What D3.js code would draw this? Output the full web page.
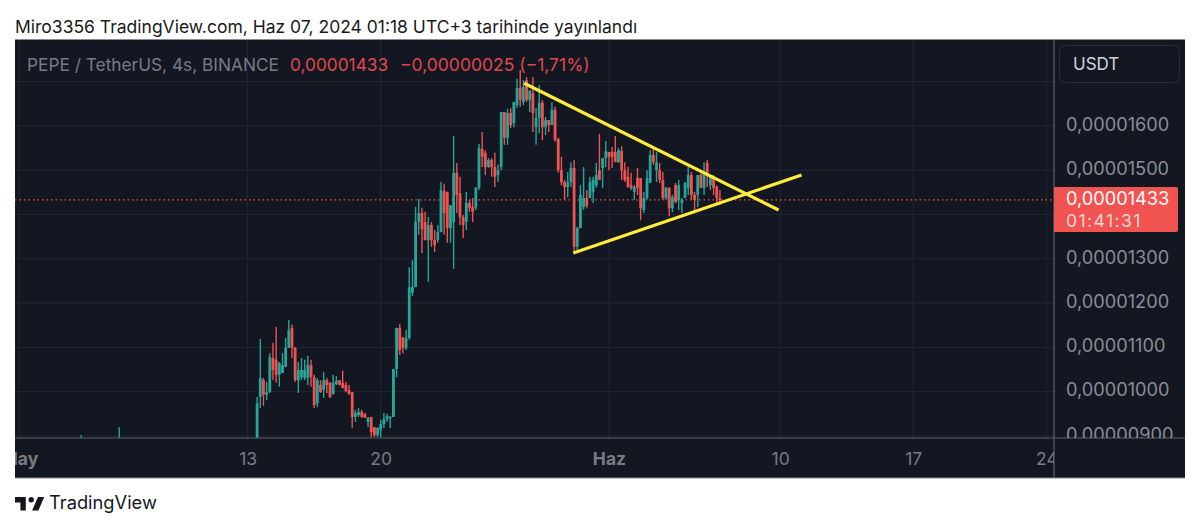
<!DOCTYPE html>
<html><head><meta charset="utf-8">
<script src="https://cdn.jsdelivr.net/npm/d3@7"></script>
<style>html,body{margin:0;background:#fff}svg{display:block}text{font-family:Inter,"Noto Sans",sans-serif}</style>
</head><body><svg id="c" width="1200" height="530"></svg>
<script>
// Values are prices x 1e-8 USDT
const firstCandle = "2024-05-13T12:00:00Z";
const opens = [880,988,1026,993,999,1076,1072,1038,1042,1056,1099,1144,1099,1026,1033,1031,1031,1060,1033,974,1015,1004,1026,1020,995,1017,1026,1020,1015,1004,999,943,947,954,950,932,943,920,902,914,927,938,941,943,1051,1144,1123,1099,1121,1223,1236,1383,1403,1383,1342,1376,1342,1342,1360,1453,1451,1369,1383,1494,1448,1394,1383,1426,1417,1415,1460,1548,1539,1507,1523,1507,1489,1507,1631,1573,1629,1606,1647,1685,1654,1703,1658,1674,1597,1618,1652,1597,1613,1602,1636,1570,1500,1473,1462,1473,1505,1327,1369,1417,1437,1437,1451,1466,1500,1505,1527,1541,1541,1541,1518,1543,1500,1485,1466,1451,1482,1482,1410,1437,1471,1534,1500,1500,1478,1437,1460,1414,1466,1433,1426,1437,1460,1489,1444,1444,1489,1460,1516,1466,1485,1462,1437];
const highs = [988,1119,1031,1022,1087,1110,1146,1067,1087,1121,1162,1151,1101,1067,1076,1072,1081,1072,1038,1031,1026,1044,1031,1022,1038,1035,1026,1047,1022,1015,999,959,963,959,952,943,943,920,920,936,952,950,945,1051,1144,1153,1123,1139,1281,1297,1417,1435,1415,1406,1394,1383,1365,1376,1473,1469,1451,1421,1577,1516,1485,1399,1451,1433,1437,1462,1559,1586,1545,1527,1527,1539,1512,1631,1631,1638,1640,1654,1706,1726,1703,1710,1681,1710,1640,1692,1658,1620,1613,1654,1643,1573,1530,1478,1496,1518,1523,1372,1466,1507,1455,1485,1485,1516,1582,1527,1566,1541,1552,1577,1550,1554,1518,1507,1494,1466,1505,1482,1451,1500,1545,1550,1541,1516,1496,1462,1462,1444,1471,1478,1437,1473,1507,1496,1451,1489,1494,1518,1523,1489,1489,1466,1455];
const lows = [880,963,968,981,997,1026,1020,1011,1042,1056,1099,1076,1022,997,1026,1026,1015,1011,963,965,997,986,997,986,993,1015,1015,1008,999,993,918,932,943,941,941,920,898,898,898,898,918,932,918,943,1033,1083,1087,1094,1117,1216,1236,1354,1313,1342,1248,1327,1315,1336,1360,1354,1336,1336,1277,1403,1376,1347,1365,1406,1383,1410,1455,1507,1489,1505,1485,1462,1473,1500,1557,1557,1595,1597,1640,1643,1647,1654,1631,1586,1557,1584,1568,1579,1586,1602,1564,1494,1466,1433,1439,1462,1315,1315,1369,1410,1414,1437,1426,1460,1478,1460,1507,1500,1505,1518,1516,1478,1473,1460,1455,1433,1444,1387,1403,1433,1471,1512,1473,1471,1433,1433,1396,1405,1426,1410,1403,1437,1444,1433,1408,1417,1460,1444,1462,1455,1444,1421,1421];
const closes = [974,1031,993,999,1078,1049,1038,1065,1060,1099,1139,1099,1026,1049,1049,1049,1060,1033,970,1026,999,1026,1015,988,1020,1024,1015,1008,1002,995,943,952,954,943,941,941,909,902,918,927,938,945,943,1051,1144,1094,1099,1121,1236,1236,1383,1403,1367,1342,1376,1342,1331,1360,1455,1403,1369,1421,1494,1444,1394,1376,1426,1415,1406,1460,1550,1530,1507,1523,1507,1485,1500,1631,1573,1629,1602,1654,1685,1658,1688,1658,1679,1629,1618,1652,1597,1613,1602,1636,1568,1500,1473,1462,1473,1505,1327,1369,1444,1437,1419,1473,1478,1489,1478,1527,1543,1530,1530,1518,1545,1500,1478,1462,1460,1462,1460,1414,1437,1482,1534,1518,1518,1478,1437,1460,1414,1439,1428,1466,1433,1471,1489,1444,1433,1489,1460,1496,1494,1485,1460,1437,1433];

// Isolated older candles at the bottom edge of the pane
const earlyDates = ["2024-05-04T06:00:00Z","2024-05-06T06:00:00Z"];
const earlyHighs = [902,920];
const earlyLows = [880,880];

// Drawn trendlines: [time, price]
const fallingLine = [["2024-05-27T13:00:00Z",1696],["2024-06-09T22:00:00Z",1410]];
const risingLine = [["2024-05-30T03:00:00Z",1313],["2024-06-11T03:00:00Z",1489]];

const priceTicks = [900,1000,1100,1200,1300,1400,1500,1600];
const priceGrid = [900,1000,1100,1200,1300,1400,1500,1600,1700];
const dateTicks = ["2024-05-01","2024-05-13","2024-05-20","2024-06-01","2024-06-10","2024-06-17","2024-06-24"];
const dateLabels = ["May","13","20","Haz","10","17","24"];
const boldLabels = ["May","Haz"];
const lastPrice = 1433;

const svg = d3.select("#c");
const P = {l:15,t:40,r:1054,b:438,R:1185,B:478};
const parse = s => new Date(s.length===10 ? s+"T00:00:00Z" : s);
const x = d3.scaleUtc().domain([parse("2024-05-13"),parse("2024-06-24")]).range([247.6,1046.4]);
const y = d3.scaleLinear().domain([900,1700]).range([436,81.5]);
const fmt = v => (v/1e8).toFixed(8).replace(".",",");

svg.append("text").attr("x",15).attr("y",33).attr("font-size",17.5).attr("fill","#1a1a1a")
  .text("Miro3356 TradingView.com, Haz 07, 2024 01:18 UTC+3 tarihinde yayınlandı");

svg.append("rect").attr("x",P.l).attr("y",39.5).attr("width",P.R-P.l).attr("height",P.B-39.5).attr("fill","#131722");
svg.append("path").attr("d",`M${P.l} 39.5H${P.R}`).attr("stroke","#8a8c92").attr("stroke-width",1);
svg.append("path").attr("d",`M${P.l} ${P.B}H${P.R}`).attr("stroke","#8a8c92").attr("stroke-width",1);

const defs = svg.append("defs");
defs.append("clipPath").attr("id","plot").append("rect").attr("x",P.l).attr("y",P.t).attr("width",P.r-P.l).attr("height",P.b-P.t);
defs.append("clipPath").attr("id","xa").append("rect").attr("x",P.l).attr("y",P.b).attr("width",P.r-P.l).attr("height",P.B-P.b);
defs.append("clipPath").attr("id","ya").append("rect").attr("x",P.r).attr("y",P.t).attr("width",P.R-P.r).attr("height",P.b-P.t);

const plot = svg.append("g").attr("clip-path","url(#plot)");
// grid
plot.append("g").selectAll("line").data(priceGrid).join("line")
  .attr("x1",P.l).attr("x2",P.r).attr("y1",d=>y(d)).attr("y2",d=>y(d)).attr("stroke","#232733");
plot.append("g").selectAll("line").data(dateTicks).join("line")
  .attr("y1",P.t).attr("y2",P.b).attr("x1",d=>x(parse(d))).attr("x2",d=>x(parse(d))).attr("stroke","#232733");

// price line
plot.append("line").attr("x1",P.l).attr("x2",P.r).attr("y1",y(lastPrice)).attr("y2",y(lastPrice))
  .attr("stroke","#ef5350").attr("stroke-width",1.2).attr("stroke-dasharray","1.5 3");

// candles
const start = parse(firstCandle);
const candles = opens.map((o,i)=>({t:d3.utcHour.offset(start,4*i),o,h:highs[i],l:lows[i],c:closes[i]}));
const col = d => d.c>=d.o ? "#26a69a" : "#ef5350";
plot.append("g").selectAll("line").data(earlyDates).join("line")
  .attr("x1",d=>x(parse(d))).attr("x2",d=>x(parse(d)))
  .attr("y1",(d,i)=>y(earlyHighs[i])).attr("y2",(d,i)=>y(earlyLows[i]))
  .attr("stroke","#26a69a").attr("stroke-width",1.4);
const cg = plot.append("g").selectAll("g").data(candles).join("g");
cg.append("line").attr("x1",d=>x(d.t)).attr("x2",d=>x(d.t)).attr("y1",d=>y(d.h)).attr("y2",d=>y(d.l))
  .attr("stroke",col).attr("stroke-width",1.4);
cg.append("rect").attr("x",d=>x(d.t)-1.4).attr("width",2.8)
  .attr("y",d=>y(Math.max(d.o,d.c))).attr("height",d=>Math.max(1,Math.abs(y(d.o)-y(d.c))))
  .attr("fill",col);

// trendlines
const tl = d3.line().x(d=>x(parse(d[0]))).y(d=>y(d[1]));
plot.append("g").selectAll("path").data([fallingLine,risingLine]).join("path")
  .attr("d",tl).attr("fill","none").attr("stroke","#ffeb3b").attr("stroke-width",3.2);

// axis lines
svg.append("path").attr("d",`M${P.l} ${P.b}H${P.R}`).attr("stroke","#5d606b").attr("stroke-width",1.2);
svg.append("path").attr("d",`M${P.r} ${P.t}V${P.B}`).attr("stroke","#5d606b").attr("stroke-width",1.2);

// axes
const xAxis = d3.axisBottom(x).tickValues(dateTicks.map(parse)).tickSize(0).tickPadding(0)
  .tickFormat((d,i)=>dateLabels[i]);
const xg = svg.append("g").attr("clip-path","url(#xa)").append("g").attr("transform",`translate(0,${P.b})`).call(xAxis);
xg.select(".domain").remove();
xg.selectAll("text").attr("y",27).attr("dy",0).attr("font-size",17.5).attr("fill","#787b86")
  .attr("font-weight",(d,i)=>boldLabels.includes(dateLabels[i])?700:400);

const yAxis = d3.axisRight(y).tickValues(priceTicks).tickSize(0).tickPadding(0).tickFormat(fmt);
const yg = svg.append("g").attr("clip-path","url(#ya)").append("g").attr("transform",`translate(${P.r},0)`).call(yAxis);
yg.select(".domain").remove();
yg.selectAll("text").attr("x",12).attr("dy",0).attr("dominant-baseline","middle").attr("transform","translate(0,-0.7)")
  .attr("font-size",18.2).attr("fill","#8a8d96");

// USDT box
svg.append("rect").attr("x",1059.5).attr("y",45.5).attr("width",120).attr("height",37).attr("rx",6)
  .attr("fill","#131722").attr("stroke","#2a2e39");
svg.append("text").attr("x",1073).attr("y",70).attr("font-size",17).attr("fill","#d1d4dc").text("USDT");

// last price tag
svg.append("path").attr("d","M1054 187H1176a2 2 0 0 1 2 2V230a2 2 0 0 1 -2 2H1054Z").attr("fill","#f05350");
svg.append("text").attr("x",1066).attr("y",204.5).attr("font-size",18.2).attr("fill","#fff").text(fmt(lastPrice));
svg.append("text").attr("x",1066).attr("y",226.5).attr("font-size",17.6).attr("letter-spacing",1.4).attr("fill","#fbd5d4").text("01:41:31");

// legend
svg.append("text").attr("x",27).attr("y",71).attr("font-size",17.3).attr("fill","#787b86").text("PEPE / TetherUS, 4s, BINANCE");
svg.append("text").attr("x",290).attr("y",71).attr("font-size",17.3).attr("fill","#e0474c").text(fmt(lastPrice));
svg.append("text").attr("x",400).attr("y",71).attr("font-size",17.5).attr("fill","#e0474c").text("−0,00000025 (−1,71%)");

// watermark
const logo = svg.append("g").attr("transform","translate(13.2,491.6) scale(0.9)").attr("fill","#131722");
logo.append("path").attr("d","M14 6H2v6h6v9h6V6Zm14 15h-7l6.5-15h7L28 21Z");
logo.append("circle").attr("cx",20).attr("cy",9).attr("r",3);
svg.append("text").attr("x",49).attr("y",509).attr("font-size",18.3).attr("fill","#131722").text("TradingView");
</script></body></html>
